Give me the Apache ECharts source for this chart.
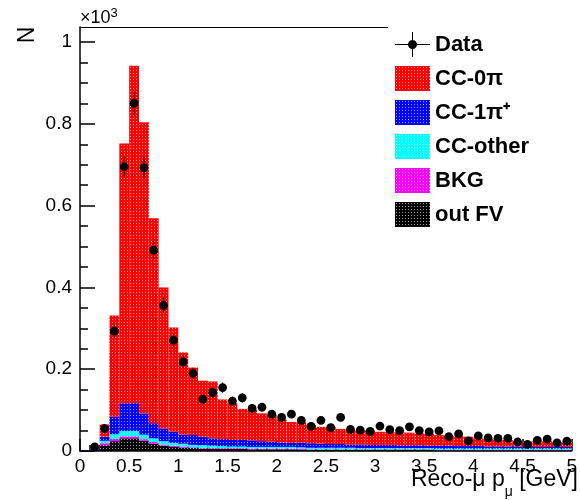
<!DOCTYPE html>
<html><head><meta charset="utf-8">
<script src="https://cdn.jsdelivr.net/npm/echarts@6/dist/echarts.min.js"></script>
<style>html,body{margin:0;padding:0;background:#fff}#c{width:580px;height:500px}</style>
</head><body><div id="c"></div>
<script>
// ---- data (values in units of 10^3) ----
const binWidth = 0.1;
const binLow = [0.0,0.1,0.2,0.3,0.4,0.5,0.6,0.7,0.8,0.9,
  1.0,1.1,1.2,1.3,1.4,1.5,1.6,1.7,1.8,1.9,
  2.0,2.1,2.2,2.3,2.4,2.5,2.6,2.7,2.8,2.9,
  3.0,3.1,3.2,3.3,3.4,3.5,3.6,3.7,3.8,3.9,
  4.0,4.1,4.2,4.3,4.4,4.5,4.6,4.7,4.8,4.9];
const outFV = [0,0.004,0.014,0.024,0.031,0.031,0.025,0.018,0.013,0.010,
  0.008,0.007,0.006,0.006,0.005,0.005,0.005,0.004,0.004,0.004,
  0.004,0.004,0.003,0.003,0.003,0.003,0.003,0.003,0.003,0.003,
  0.003,0.003,0.003,0.003,0.003,0.003,0.002,0.002,0.002,0.002,
  0.002,0.002,0.002,0.002,0.002,0.002,0.002,0.002,0.002,0.002];
const bkg = [0,0.001,0.005,0.006,0.005,0.005,0.004,0.004,0.003,0.003,
  0.003,0.002,0.002,0.002,0.002,0.002,0.002,0.002,0.002,0.002,
  0.002,0.002,0.002,0.001,0.001,0.001,0.001,0.001,0.001,0.001,
  0.001,0.001,0.001,0.001,0.001,0.001,0.001,0.001,0.001,0.001,
  0.001,0.001,0.001,0.001,0.001,0.001,0.001,0.001,0.001,0.001];
const ccOther = [0,0.001,0.006,0.011,0.013,0.013,0.011,0.009,0.008,0.007,
  0.007,0.006,0.006,0.005,0.005,0.004,0.004,0.004,0.004,0.004,
  0.004,0.004,0.004,0.004,0.004,0.004,0.004,0.004,0.003,0.003,
  0.003,0.003,0.003,0.003,0.003,0.003,0.003,0.003,0.003,0.003,
  0.003,0.003,0.003,0.003,0.003,0.003,0.003,0.003,0.003,0.003];
const cc1pi = [0,0.001,0.010,0.043,0.068,0.068,0.052,0.037,0.031,0.027,
  0.022,0.024,0.021,0.018,0.017,0.016,0.016,0.016,0.014,0.013,
  0.011,0.010,0.011,0.011,0.010,0.009,0.009,0.008,0.009,0.008,
  0.008,0.008,0.007,0.007,0.007,0.006,0.007,0.007,0.006,0.006,
  0.006,0.005,0.005,0.005,0.005,0.004,0.004,0.004,0.004,0.004];
const cc0pi = [0,0.001,0.030,0.247,0.635,0.825,0.712,0.501,0.345,0.255,
  0.201,0.165,0.137,0.139,0.097,0.090,0.076,0.075,0.068,0.065,
  0.056,0.051,0.050,0.045,0.041,0.042,0.037,0.035,0.034,0.035,
  0.032,0.031,0.032,0.031,0.029,0.029,0.026,0.024,0.025,0.023,
  0.019,0.018,0.017,0.016,0.012,0.013,0.014,0.014,0.011,0.011];
const dataCounts = [null,0.010,0.055,0.293,0.695,0.850,0.693,0.491,0.356,0.271,
  0.218,0.190,0.127,0.143,0.155,0.122,0.130,0.104,0.107,0.090,
  0.082,0.090,0.075,0.060,0.075,0.057,0.082,0.053,0.051,0.048,
  0.061,0.052,0.050,0.059,0.050,0.047,0.049,0.035,0.042,0.025,
  0.037,0.032,0.031,0.031,0.022,0.016,0.026,0.029,0.020,0.024];
const yTicks = [0,0.2,0.4,0.6,0.8,1];
const yMinorTicks = [0.05,0.1,0.15,0.25,0.3,0.35,0.45,0.5,0.55,0.65,0.7,0.75,0.85,0.9,0.95];
const seriesNames = ['out FV','BKG','CC-other','CC-1π⁺','CC-0π'];
const seriesColors = ['#000000','#ff00ff','#00ffff','#0000ff','#ff0000'];
const seriesValues = [outFV,bkg,ccOther,cc1pi,cc0pi];

// ---- rendering ----
const FONT = '"Liberation Sans", Arial, Helvetica, sans-serif';
function pattern(color){
  const c = document.createElement('canvas'); c.width = 3; c.height = 3;
  const g = c.getContext('2d'); g.fillStyle = color; g.fillRect(0,0,3,3);
  g.fillStyle = 'rgba(255,255,255,0.6)'; g.fillRect(1,1,1,1);
  return {image: c, repeat: 'repeat'};
}
const base = binLow.map(() => 0);
const series = seriesNames.map((name, k) => {
  const pat = pattern(seriesColors[k]);
  const d = binLow.map((lo, i) => {
    const b = base[i]; const t = b + seriesValues[k][i]; base[i] = t;
    return [lo, lo + binWidth, b, t];
  });
  return {
    type: 'custom', name: name, data: d, encode: {x: [0,1], y: [2,3]},
    itemStyle: {color: pat}, z: 2,
    renderItem: (params, api) => {
      const p0 = api.coord([api.value(0), api.value(2)]);
      const p1 = api.coord([api.value(1), api.value(3)]);
      if (p0[1] - p1[1] <= 0.01) return null;
      return {type: 'rect', shape: {x: p0[0], y: p1[1], width: p1[0] - p0[0], height: p0[1] - p1[1]},
              style: {fill: pat}};
    }
  };
});
const dataPts = [];
binLow.forEach((lo, i) => { if (dataCounts[i] != null) dataPts.push([lo + binWidth / 2, dataCounts[i]]); });
series.push({
  type: 'custom', name: 'Data', data: dataPts, encode: {x: 0, y: 1}, z: 5,
  itemStyle: {color: '#000'},
  renderItem: (params, api) => {
    const x = api.value(0), v = api.value(1);
    const err = Math.sqrt(v * 1000) / 1000;
    const c = api.coord([x, v]);
    const t = api.coord([x, v + err]);
    const b = api.coord([x, Math.max(0, v - err)]);
    return {type: 'group', children: [
      {type: 'line', shape: {x1: c[0], y1: t[1], x2: c[0], y2: b[1]}, style: {stroke: '#000', lineWidth: 1}},
      {type: 'circle', shape: {cx: c[0], cy: c[1], r: 4.4}, style: {fill: '#000'}}
    ]};
  }
});

const dataIcon = 'path://M0,12L35,12L35,13L0,13Z M17,0L18,0L18,25L17,25Z M22,12.5A4.5,4.5,0,1,1,13,12.5A4.5,4.5,0,1,1,22,12.5Z';
const chart = echarts.init(document.getElementById('c'));
chart.setOption({
  animation: false,
  backgroundColor: '#fff',
  grid: {left: 80, right: 2, top: 27, bottom: 49},
  xAxis: {
    type: 'value', min: 0, max: 5, interval: 0.5,
    axisLine: {show: true, lineStyle: {color: '#000', width: 1.5}},
    axisTick: {show: true, inside: true, length: 12, lineStyle: {color: '#000', width: 1.5}},
    minorTick: {show: true, splitNumber: 5, length: 6, lineStyle: {color: '#000', width: 1.5}},
    axisLabel: {color: '#000', fontSize: 19, fontFamily: FONT, margin: 6},
    splitLine: {show: false}
  },
  yAxis: [{
    type: 'value', min: 0, max: 1.0367, position: 'left',
    axisLine: {show: true, lineStyle: {color: '#000', width: 1.5}},
    axisTick: {show: true, inside: true, length: 15, customValues: yTicks, lineStyle: {color: '#000', width: 1.5}},
    axisLabel: {color: '#000', fontSize: 19, fontFamily: FONT, margin: 8, customValues: yTicks},
    splitLine: {show: false}
  }, {
    type: 'value', min: 0, max: 1.0367, position: 'left',
    axisLine: {show: false},
    axisTick: {show: true, inside: true, length: 8, customValues: yMinorTicks, lineStyle: {color: '#000', width: 1.5}},
    axisLabel: {show: false},
    splitLine: {show: false}
  }],
  legend: {
    orient: 'vertical', left: 395, top: 32, itemWidth: 35, itemHeight: 25, itemGap: 9,
    selectedMode: false, padding: 0,
    textStyle: {color: '#000', fontSize: 22, fontWeight: 'bold', fontFamily: FONT},
    data: [{name: 'Data', icon: dataIcon}, {name: 'CC-0π', icon: 'rect'}, {name: 'CC-1π⁺', icon: 'rect'},
           {name: 'CC-other', icon: 'rect'}, {name: 'BKG', icon: 'rect'}, {name: 'out FV', icon: 'rect'}]
  },
  graphic: [
    {type: 'line', shape: {x1: 80, y1: 27.5, x2: 388, y2: 27.5}, style: {stroke: '#000', lineWidth: 1}},
    {type: 'text', x: 80, y: 7, style: {text: '{a|×10}{b|3}', fill: '#000',
      rich: {a: {fontSize: 18, fontFamily: FONT, lineHeight: 20, verticalAlign: 'bottom'},
             b: {fontSize: 13, fontFamily: FONT, lineHeight: 20, verticalAlign: 'top'}}}},
    {type: 'text', x: 28, y: 35, rotation: Math.PI / 2,
      style: {text: 'N', fontSize: 23, fontFamily: FONT, fill: '#000', align: 'center', verticalAlign: 'middle'}},
    {type: 'text', right: 2, top: 468, style: {text: '{a|Reco-μ p}{s|μ}{a| [GeV]}', fill: '#000',
      rich: {a: {fontSize: 23, fontFamily: FONT, lineHeight: 26},
             s: {fontSize: 14, fontFamily: FONT, lineHeight: 40, verticalAlign: 'bottom'}}}}
  ],
  series: series
});
</script></body></html>
